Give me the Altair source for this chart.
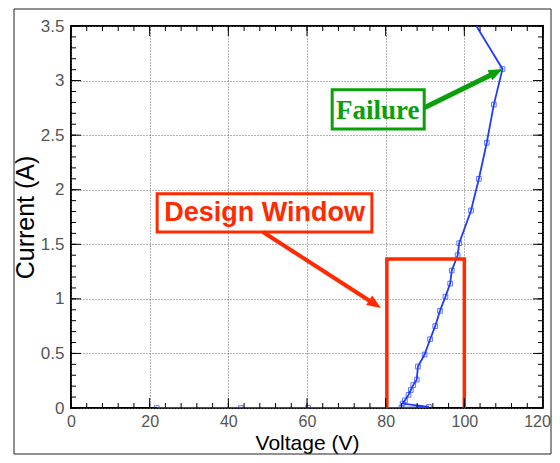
import altair as alt
import pandas as pd

# ---- data ----
volt = [21.8, 43.2, 60.3, 84.0, 91.0, 84.3, 84.9, 85.8, 86.4, 87.0, 87.9, 88.2,
        89.9, 91.3, 92.6, 93.8, 95.2, 96.4, 96.8, 98.3, 98.7, 101.7, 103.7,
        105.7, 107.5, 109.7, 98.0]
curr = [0.0, 0.0, 0.0, 0.0, 0.01, 0.04, 0.07, 0.12, 0.165, 0.21, 0.26, 0.38,
        0.49, 0.63, 0.75, 0.89, 1.02, 1.14, 1.26, 1.40, 1.51, 1.81, 2.10,
        2.43, 2.78, 3.106, 3.8]

window_v = [80.3, 80.3, 100.0, 100.0]
window_i = [0.0, 1.365, 1.365, 0.0]

x_major = [0, 20, 40, 60, 80, 100, 120]
y_major = [0, 0.5, 1, 1.5, 2, 2.5, 3, 3.5]
x_minor = list(range(0, 121, 4))
y_minor = [round(v * 0.1, 1) for v in range(0, 36)]

design_text = "Design Window"
design_box = dict(v1=21.9, v2=76.5, i1=1.613, i2=1.963, vc=49.2, ic=1.79)
design_arrow_v = [48.8, 76.0]
design_arrow_i = [1.613, 0.98]
design_tip = (78.8, 0.917)

fail_text = "Failure"
fail_box = dict(v1=66.4, v2=89.8, i1=2.557, i2=2.915, vc=78.0, ic=2.735)
fail_arrow_v = [89.8, 107.0]
fail_arrow_i = [2.75, 3.055]
fail_tip = (109.7, 3.106)

W, H = 472, 382
RED = "#ff2a00"
GREEN = "#0aa00a"
BLUE = "#1f3cff"

xs = alt.Scale(domain=[0, 120], nice=False, zero=False)
ys = alt.Scale(domain=[0, 3.5], nice=False, zero=False)

df = pd.DataFrame({"V": volt, "I": curr, "k": list(range(len(volt)))})

base_x = alt.X("V:Q", scale=xs, title="Voltage (V)",
               axis=alt.Axis(values=x_major, format="d", labelFlush=False,
                             labelPadding=5, labelFontSize=16,
                             labelOffset={"condition": {"test": "datum.value == 120", "value": -6},
                                          "value": 0},
                             titleFontSize=21, titlePadding=3))
base_y = alt.Y("I:Q", scale=ys, title="Current (A)",
               axis=alt.Axis(values=y_major, format="~g", labelFlush=False,
                             labelPadding=7, labelFontSize=17,
                             titleFontSize=25, titlePadding=2))

curve = alt.Chart(df).mark_line(color=BLUE, strokeWidth=1.8, clip=True).encode(
    x=base_x, y=base_y, order="k:Q")
pts = alt.Chart(df).mark_point(shape="square", filled=False, color=BLUE,
                               size=22, strokeWidth=1, clip=True).encode(
    x="V:Q", y="I:Q")

win = alt.Chart(pd.DataFrame({"V": window_v, "I": window_i, "k": [0, 1, 2, 3]})).mark_line(
    color=RED, strokeWidth=3.5, strokeCap="butt", strokeJoin="miter").encode(
    x="V:Q", y="I:Q", order="k:Q")

# ticks (inward, all four sides)
def tick_layers(vals, length, field):
    d = pd.DataFrame({field: vals})
    if field == "V":
        bot = alt.Chart(d).mark_rule(color="black", strokeWidth=1).encode(
            x="V:Q", y=alt.value(H), y2=alt.value(H - length))
        top = alt.Chart(d).mark_rule(color="black", strokeWidth=1).encode(
            x="V:Q", y=alt.value(0), y2=alt.value(length))
        return [bot, top]
    left = alt.Chart(d).mark_rule(color="black", strokeWidth=1).encode(
        y="I:Q", x=alt.value(0), x2=alt.value(length))
    right = alt.Chart(d).mark_rule(color="black", strokeWidth=1).encode(
        y="I:Q", x=alt.value(W), x2=alt.value(W - length))
    return [left, right]

ticks = (tick_layers(x_minor, 5, "V") + tick_layers(x_major, 10, "V")
         + tick_layers(y_minor, 5, "I") + tick_layers(y_major, 10, "I"))

# annotations
one = pd.DataFrame({"a": [0]})

def box(b, color):
    return alt.Chart(one).mark_rect(fill=None, stroke=color, strokeWidth=3).encode(
        x=alt.datum(b["v1"]), x2=alt.datum(b["v2"]),
        y=alt.datum(b["i1"]), y2=alt.datum(b["i2"]))

d_box = box(design_box, RED)
d_txt = alt.Chart(one).mark_text(text=design_text, color=RED, font="Liberation Sans",
                                 fontWeight="bold", fontSize=27).encode(
    x=alt.datum(design_box["vc"]), y=alt.datum(design_box["ic"]))
f_box = box(fail_box, GREEN)
f_txt = alt.Chart(one).mark_text(text=fail_text, color=GREEN, font="Liberation Serif",
                                 fontWeight="bold", fontSize=27).encode(
    x=alt.datum(fail_box["vc"]), y=alt.datum(fail_box["ic"] - 0.01))

def arrow(av, ai, tip, color, width, angle):
    line = alt.Chart(pd.DataFrame({"V": av, "I": ai})).mark_line(
        color=color, strokeWidth=width, strokeCap="butt").encode(x="V:Q", y="I:Q")
    head = alt.Chart(pd.DataFrame({"V": [tip[0]], "I": [tip[1]]})).mark_point(
        shape="M0,0 L0.8,2 L-0.8,2 Z", filled=True, fill=color, color=color,
        opacity=1, size=196, angle=angle, strokeWidth=0).encode(x="V:Q", y="I:Q")
    return [line, head]

arrows = arrow(design_arrow_v, design_arrow_i, design_tip, RED, 4, 122.8) + \
    arrow(fail_arrow_v, fail_arrow_i, fail_tip, GREEN, 5, 63.1)

frame = alt.Chart(one).mark_rect(fill=None, stroke="#222", strokeWidth=1).encode(
    x=alt.value(-57), x2=alt.value(480), y=alt.value(-17), y2=alt.value(428))

chart = alt.layer(curve, pts, win, *ticks, d_box, d_txt, f_box, f_txt, *arrows, frame).properties(
    width=W, height=H,
    autosize=alt.AutoSizeParams(type="none"),
    padding={"left": 63, "top": 18, "right": 9, "bottom": 47},
).configure_view(stroke="black", strokeWidth=2).configure_axis(
    domain=False, ticks=False, grid=True, gridColor="#666", gridDash=[1, 2],
    gridWidth=1, labelFont="Liberation Sans", labelColor="#555",
    titleFont="Liberation Sans", titleFontWeight="normal", titleColor="black",
)

chart.save("out.html", embed_options={"renderer": "svg", "actions": False})
